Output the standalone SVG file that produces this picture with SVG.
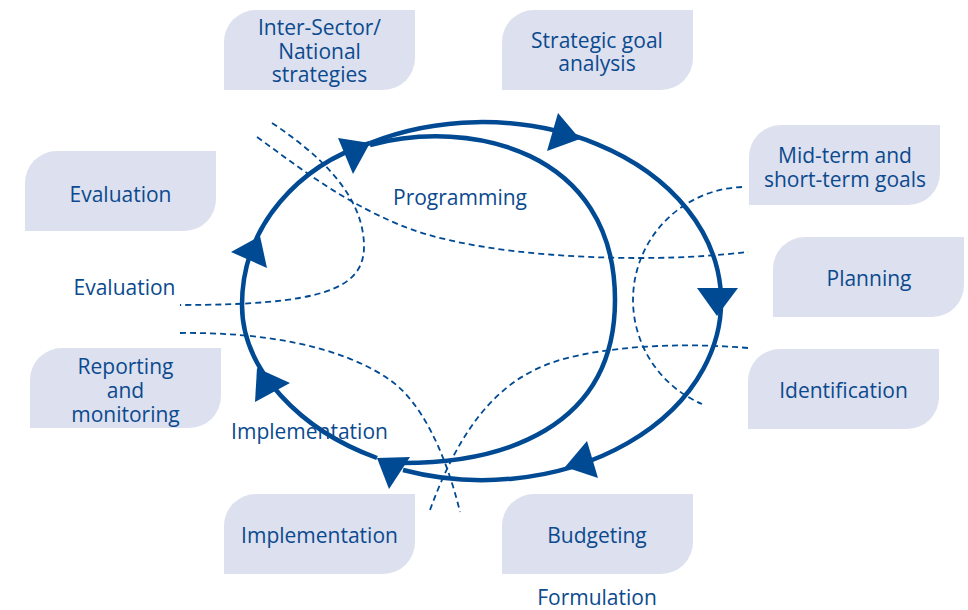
<svg xmlns="http://www.w3.org/2000/svg" xmlns:xlink="http://www.w3.org/1999/xlink" width="968" height="610" viewBox="0 0 968 610">
<style>
.box{fill:#dde0ee;}
.t{font-family:"Open Sans","Noto Sans","Liberation Sans",sans-serif;font-size:21px;fill:#0b4a8e;text-anchor:middle;}
.loop{fill:none;stroke:#004a93;stroke-width:4.5;}
.dash{fill:none;stroke:#004a93;stroke-width:1.8;stroke-dasharray:6 4;}
.arr{fill:#004a93;}
</style>
<defs>
<path id="boxshape" d="M0,32 A32,32 0 0 1 32,0 H191 V48 A32,32 0 0 1 159,80 H0 Z"/>
</defs>
<rect width="968" height="610" fill="#ffffff"/>

<g id="node-intersector">
<use xlink:href="#boxshape" href="#boxshape" class="box" transform="translate(224,10)"/>
<text class="t" x="319.5" y="35">Inter-Sector/</text>
<text class="t" x="319.5" y="59">National</text>
<text class="t" x="319.5" y="82">strategies</text>
</g>
<g id="node-strategic">
<use xlink:href="#boxshape" href="#boxshape" class="box" transform="translate(502,10)"/>
<text class="t" x="597" y="47.5">Strategic goal</text>
<text class="t" x="597" y="71">analysis</text>
</g>
<g id="node-evaluation">
<use xlink:href="#boxshape" href="#boxshape" class="box" transform="translate(25,151)"/>
<text class="t" x="120.5" y="201.5">Evaluation</text>
</g>
<g id="node-reporting">
<use xlink:href="#boxshape" href="#boxshape" class="box" transform="translate(30,348)"/>
<text class="t" x="125.5" y="374">Reporting</text>
<text class="t" x="125.5" y="398">and</text>
<text class="t" x="125.5" y="421.5">monitoring</text>
</g>
<g id="node-midterm">
<use xlink:href="#boxshape" href="#boxshape" class="box" transform="translate(749,125)"/>
<text class="t" x="845" y="162.5">Mid-term and</text>
<text class="t" x="845" y="186.5">short-term goals</text>
</g>
<g id="node-planning">
<use xlink:href="#boxshape" href="#boxshape" class="box" transform="translate(773,237)"/>
<text class="t" x="869" y="285.5">Planning</text>
</g>
<g id="node-identification">
<use xlink:href="#boxshape" href="#boxshape" class="box" transform="translate(748,349)"/>
<text class="t" x="843.5" y="397.5">Identification</text>
</g>
<g id="node-implementation">
<use xlink:href="#boxshape" href="#boxshape" class="box" transform="translate(224,494)"/>
<text class="t" x="319.5" y="543">Implementation</text>
</g>
<g id="node-budgeting">
<use xlink:href="#boxshape" href="#boxshape" class="box" transform="translate(502,494)"/>
<text class="t" x="597" y="543">Budgeting</text>
</g>

<g id="connectors">
<path class="dash" d="M272,123 C320,155 363,195 364,245 C365,290 320,305 180,305"/>
<path class="dash" d="M257,137 C300,168 340,200 400,225 C460,250 560,258 640,258 C690,258 720,255 748,252"/>
<path class="dash" d="M742,187 A113,113 0 0 0 702,404"/>
<path class="dash" d="M748,348 C690,343 630,345 580,355 C520,367 470,400 430,510"/>
<path class="dash" d="M180,333 C260,332 340,345 390,380 C420,401 445,450 460,512"/>

<path class="loop" d="M370,143 A239,179 0 1 1 403,470"/>
<path class="loop" d="M370,145 C470,118 615,150 615,300 C615,430 500,463 403,463"/>
<path class="loop" d="M377,458 C300,430 242,370 242,305 C242,225 300,165 370,143"/>

<polygon class="arr" points="370,143 338,138 353,174"/>
<polygon class="arr" points="580,139 558,113 547,151"/>
<polygon class="arr" points="717,316 697,288 738,288"/>
<polygon class="arr" points="565,467 587,441 598,478"/>
<polygon class="arr" points="377,458 410,457 389,489"/>
<polygon class="arr" points="257,368 290,383 255,402"/>
<polygon class="arr" points="260,236 231,252 267,268"/>
</g>

<g id="labels">
<text class="t" x="460" y="205">Programming</text>
<text class="t" x="124.5" y="295">Evaluation</text>
<text class="t" x="309.5" y="439">Implementation</text>
<text class="t" x="597" y="605">Formulation</text>
</g>
</svg>
